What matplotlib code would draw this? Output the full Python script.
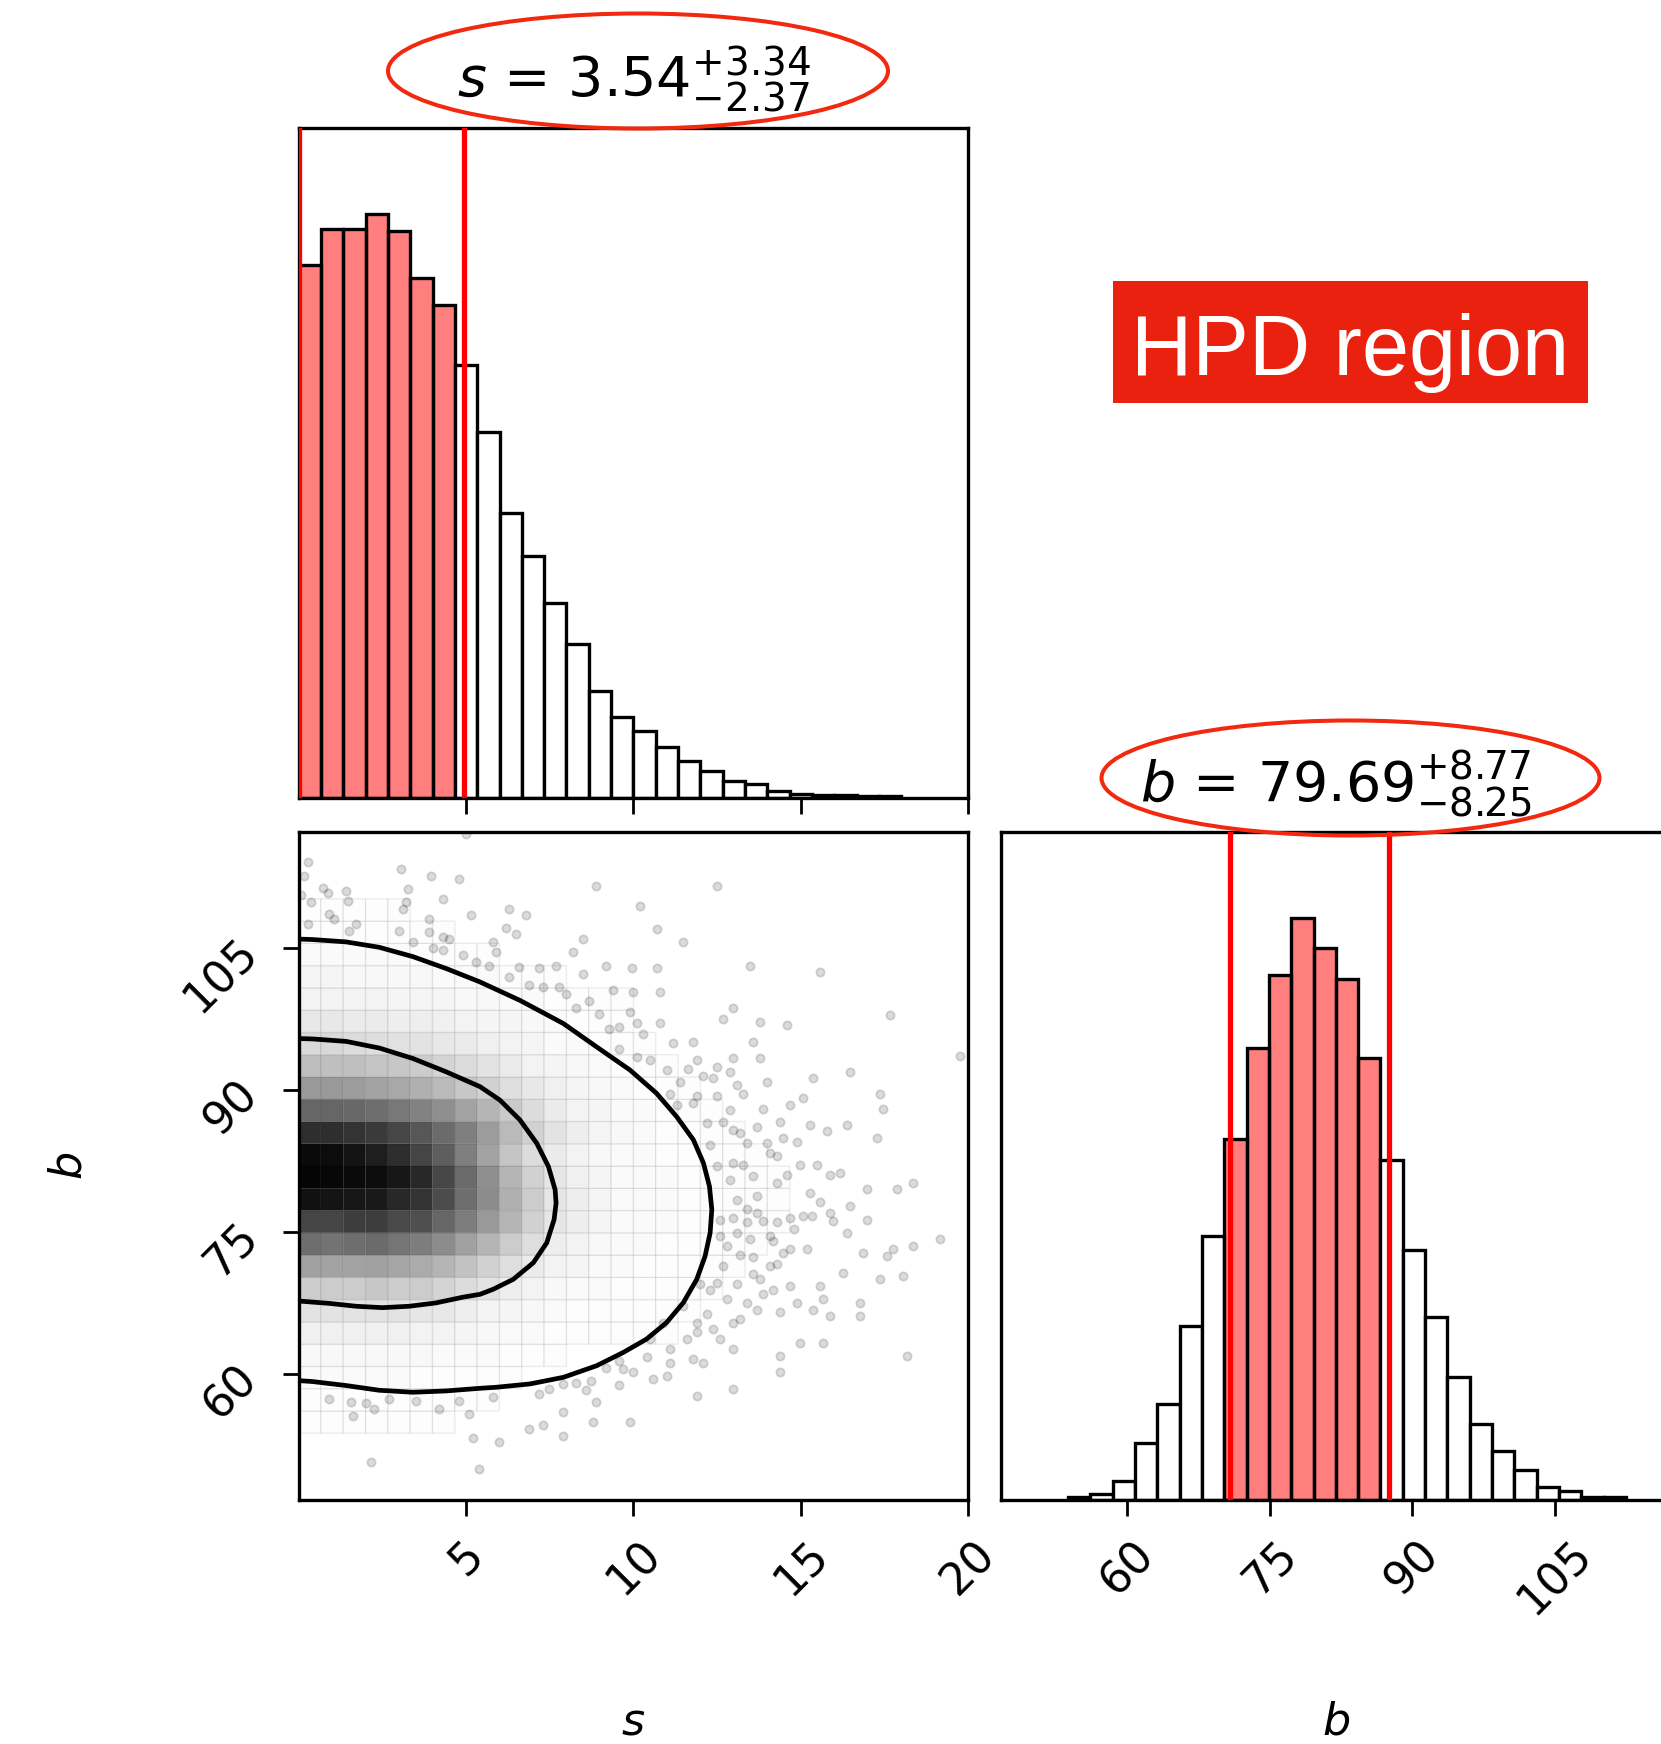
import numpy as np
import matplotlib
matplotlib.use("Agg")
import matplotlib.pyplot as plt
from matplotlib.colors import LinearSegmentedColormap
from matplotlib.patches import Ellipse, Rectangle

# --- valores ---
s_range = [0.0, 20.0]
b_range = [46.7, 117.2]
n_bins = 30

s_counts = [1160, 1238, 1238, 1270, 1233, 1132, 1072, 942, 795, 620,
            525, 423, 335, 233, 175, 145, 110, 80, 58, 37,
            30, 15, 8, 6, 5, 4, 3, 0, 0, 0]
b_counts = [0, 0, 0, 5, 12, 37, 108, 183, 332, 505,
            690, 863, 1003, 1112, 1054, 995, 843, 650, 478, 350,
            234, 145, 93, 57, 25, 17, 5, 5, 0, 0]

s_hpd = [0.0, 4.94]
b_hpd = [70.8, 87.5]

s_ticks = [5, 10, 15, 20]
b_ticks = [60, 75, 90, 105]

s_title = r"$s$ = ${3.54}_{-2.37}^{+3.34}$"
b_title = r"$b$ = ${79.69}_{-8.25}^{+8.77}$"

# densidad 2D (oscuridad en %), filas = bins de b de abajo a arriba, columnas = bins de s
density = [
    [],
    [],
    [],
    [1, 1, 1, 1, 1, 1, 1],
    [1, 1, 1, 1, 1, 1, 1, 1, 1],
    [2, 2, 2, 2, 2, 1, 1, 1, 1, 1],
    [3, 3, 3, 3, 3, 3, 2, 2, 2, 1, 1, 1],
    [6, 6, 6, 6, 6, 5, 5, 4, 3, 2, 2, 1, 1, 1, 1, 1, 1],
    [11, 11, 11, 11, 11, 10, 9, 7, 5, 4, 3, 2, 1, 1, 1, 1, 1, 1],
    [20, 20, 20, 22, 20, 20, 17, 14, 11, 7, 5, 3, 2, 2, 1, 1, 1, 1, 1],
    [37, 36, 36, 37, 35, 33, 29, 24, 18, 13, 8, 5, 4, 2, 2, 1, 1, 1, 1, 1],
    [57, 55, 57, 58, 54, 51, 45, 37, 29, 20, 13, 7, 5, 3, 2, 2, 1, 1, 1, 1, 1],
    [73, 73, 76, 76, 71, 69, 60, 51, 40, 29, 18, 10, 7, 4, 2, 2, 2, 1, 1, 1, 1, 1],
    [93, 92, 91, 90, 84, 80, 70, 57, 45, 31, 20, 10, 7, 4, 2, 2, 2, 1, 1, 1, 1, 1],
    [98, 97, 96, 95, 91, 84, 72, 58, 44, 29, 18, 10, 6, 4, 2, 2, 2, 1, 1, 1, 1, 1],
    [96, 95, 92, 88, 82, 73, 63, 50, 36, 23, 14, 8, 5, 3, 2, 2, 1, 1, 1, 1, 1],
    [82, 82, 80, 77, 72, 66, 58, 50, 39, 27, 18, 11, 7, 4, 3, 2, 1, 1, 1, 1],
    [60, 60, 59, 57, 53, 49, 44, 36, 29, 21, 14, 8, 5, 4, 2, 2, 1, 1, 1],
    [40, 40, 39, 36, 34, 31, 27, 22, 18, 13, 9, 6, 4, 3, 2, 1, 1, 1],
    [26, 25, 25, 23, 22, 20, 17, 14, 11, 8, 5, 4, 3, 2, 1, 1, 1],
    [15, 15, 14, 13, 12, 11, 9, 8, 6, 5, 4, 2, 2, 1, 1, 1],
    [9, 9, 8, 8, 7, 7, 6, 5, 4, 4, 3, 2, 1, 1, 1],
    [5, 5, 5, 5, 4, 4, 4, 3, 3, 2, 2, 1, 1, 1, 1],
    [4, 4, 3, 3, 3, 3, 2, 2, 2, 1, 1, 1],
    [2, 2, 2, 2, 2, 1, 1, 1, 1],
    [1, 1, 1, 1, 1, 1, 1],
    [1, 1, 1, 1, 1],
    [],
    [],
    [],
]

# contornos (s, b)
inner_contour = [(0.0, 95.4), (0.42, 95.36), (1.42, 95.1), (2.41, 94.4), (3.41, 93.3),
                 (4.40, 91.9), (5.42, 90.32), (6.01, 88.91), (6.61, 86.81), (7.11, 84.36),
                 (7.46, 81.90), (7.66, 79.45), (7.69, 78.05), (7.63, 76.30), (7.41, 73.84),
                 (7.01, 71.74), (6.41, 69.99), (5.81, 68.94), (5.42, 68.41), (4.90, 68.1),
                 (4.10, 67.5), (3.31, 67.15), (2.51, 67.0), (1.71, 67.15), (0.92, 67.45),
                 (0.0, 67.7)]
outer_contour = [(0.0, 105.9), (0.42, 105.85), (1.42, 105.6), (2.41, 105.03), (3.41, 104.05),
                 (4.40, 102.8), (5.40, 101.4), (6.61, 99.43), (7.91, 96.98), (8.90, 94.52),
                 (9.90, 92.07), (10.69, 89.62), (11.29, 87.16), (11.79, 84.71), (12.09, 82.26),
                 (12.27, 79.80), (12.34, 77.35), (12.29, 74.89), (12.14, 72.44), (11.89, 69.99),
                 (11.49, 67.53), (10.99, 65.43), (10.39, 63.68), (9.70, 62.28), (8.90, 60.87),
                 (7.91, 59.65), (6.91, 58.95), (5.91, 58.60), (5.42, 58.49), (4.40, 58.21),
                 (3.41, 58.07), (2.41, 58.28), (1.42, 58.78), (0.42, 59.2), (0.0, 59.3)]

# muestras fuera del contorno exterior (s, b)
samples = [
    (12.49, 111.5), (10.20, 109.4), (10.69, 107.0), (11.49, 105.6), (10.69, 102.8), (9.95, 102.8),
    (13.48, 103.1), (15.57, 102.4), (10.00, 100.3), (10.79, 100.3), (12.98, 98.6), (12.68, 97.5),
    (13.78, 97.2), (14.58, 96.8), (17.66, 97.9), (19.75, 93.6), (9.90, 98.2), (10.10, 97.0),
    (10.79, 97.0), (10.30, 95.9), (11.19, 94.9), (11.79, 95.0), (13.58, 95.0), (10.10, 93.5),
    (10.49, 93.1), (11.89, 93.1), (12.98, 93.3), (13.78, 93.3), (10.99, 92.1), (11.64, 92.2),
    (12.49, 92.4), (12.88, 91.9), (12.09, 91.4), (12.39, 91.2), (11.39, 90.8), (13.98, 90.8),
    (15.37, 91.2), (16.47, 91.9), (13.08, 90.5), (13.28, 89.6), (11.09, 89.6), (11.89, 89.3),
    (12.49, 89.3), (11.29, 88.4), (11.79, 88.6), (14.68, 88.4), (15.07, 89.1), (13.88, 88.0),
    (17.36, 89.6), (17.46, 88.0), (12.88, 87.9), (12.19, 86.5), (12.68, 86.6), (14.38, 86.6),
    (15.27, 86.3), (16.37, 86.3), (15.77, 85.6), (13.68, 86.1), (12.98, 85.8), (13.18, 85.4),
    (14.48, 84.9), (14.87, 84.5), (17.26, 84.9), (12.29, 84.2), (13.38, 84.4), (13.98, 84.4),
    (14.08, 83.3), (14.28, 83.0),
    (12.49, 81.9), (12.98, 82.3), (13.28, 82.1), (13.58, 80.9), (14.97, 82.1), (15.47, 82.1),
    (15.87, 81.0), (16.17, 81.2), (14.58, 81.0), (14.28, 80.2), (12.88, 80.5), (13.08, 78.4),
    (13.68, 78.8), (13.38, 77.4), (13.68, 77.0), (15.27, 79.1), (15.57, 78.2), (16.47, 77.7),
    (16.97, 79.5), (17.86, 79.5), (18.36, 80.2), (12.58, 76.3), (12.98, 76.5), (13.38, 76.0),
    (13.88, 76.1), (14.28, 76.0), (14.68, 76.5), (15.07, 76.7), (15.32, 76.7), (15.87, 77.0),
    (15.97, 76.1), (16.97, 76.3), (14.78, 75.3), (16.37, 74.9), (19.16, 74.2), (12.58, 74.6),
    (12.78, 73.5), (13.08, 74.9), (13.48, 74.2), (14.08, 74.6), (14.18, 74.0), (14.48, 72.8),
    (14.68, 73.2), (15.17, 73.2), (16.87, 72.8), (17.56, 72.5), (17.76, 73.2), (18.36, 73.5),
    (13.18, 72.6), (13.58, 72.3), (12.68, 71.4), (14.08, 71.4), (14.28, 71.6), (13.58, 70.5),
    (13.78, 70.0), (16.27, 70.7), (17.36, 70.0), (18.06, 70.3), (13.08, 69.5), (11.99, 69.5),
    (12.29, 68.9), (12.49, 69.6), (14.18, 68.9), (13.88, 68.4), (14.68, 69.3), (15.57, 69.3),
    (12.78, 67.9), (13.38, 67.5), (13.68, 66.7), (14.87, 67.5), (15.37, 66.8), (15.67, 67.9),
    (16.77, 67.5), (15.87, 66.1), (16.77, 66.1), (11.49, 67.2), (14.38, 66.5), (13.18, 65.8),
    (12.98, 65.4), (12.19, 66.3), (11.89, 65.4), (11.89, 64.4), (10.89, 65.4), (10.49, 63.7),
    (11.09, 62.6), (12.39, 64.7), (12.58, 63.7), (11.59, 63.7), (12.98, 62.6), (14.97, 63.3),
    (15.67, 63.3), (18.16, 61.9), (14.38, 61.9), (11.79, 61.6), (12.09, 61.2), (11.09, 61.2),
    (10.39, 61.8), (9.99, 60.2), (10.99, 59.8), (10.59, 59.5), (14.38, 60.2), (12.98, 58.4),
    (11.89, 57.7), (9.90, 54.9),
    (0.27, 114.0), (0.17, 112.6), (3.06, 113.3), (3.95, 112.6), (4.80, 112.2), (8.88, 111.5),
    (0.72, 111.3), (0.87, 110.8), (1.42, 111.0), (3.26, 111.2), (0.07, 110.5), (0.37, 109.8),
    (1.47, 109.9), (4.30, 110.1), (3.21, 109.8), (3.11, 109.1), (6.29, 109.1), (5.15, 108.4),
    (6.79, 108.4), (0.92, 108.5), (1.07, 108.0), (0.27, 107.5), (1.71, 107.5), (3.90, 108.0),
    (1.52, 106.8), (3.01, 106.8), (3.90, 106.6), (4.30, 106.1), (4.50, 105.9), (6.19, 107.1),
    (6.49, 106.4), (8.48, 105.9), (3.41, 105.6), (4.00, 105.0), (4.30, 104.7), (4.90, 104.2),
    (5.80, 105.6), (5.90, 104.5), (8.19, 104.5), (5.30, 103.5), (5.70, 103.1), (6.59, 102.9),
    (7.19, 102.8), (7.69, 103.1), (9.18, 103.1), (8.48, 102.2), (6.29, 101.9), (6.89, 101.0),
    (7.29, 100.8), (7.79, 100.8), (7.99, 100.1), (9.38, 100.5), (8.68, 99.4), (8.29, 98.6),
    (8.98, 98.0), (9.28, 96.4), (9.58, 96.6), (9.58, 94.3), (5.0, 117.0),
    (0.92, 57.4), (1.57, 57.0), (1.61, 55.6), (2.01, 56.9), (2.26, 56.3), (2.71, 57.4),
    (3.51, 57.2), (4.20, 56.3), (4.80, 57.2), (5.10, 55.8), (5.80, 57.6), (5.20, 53.2),
    (5.99, 52.8), (5.40, 50.0), (2.16, 50.7), (6.89, 54.2), (7.29, 54.6), (7.89, 56.0),
    (7.89, 53.5), (8.78, 54.9), (8.88, 57.0), (8.58, 58.3), (9.58, 58.8), (7.19, 57.9),
    (7.49, 58.4), (7.89, 58.9), (8.29, 59.1), (8.73, 59.3), (9.18, 60.6), (9.68, 60.5),
    (9.58, 61.4),
]

# --- geometría en píxeles de la imagen final ---
W, H = 1661, 1744
fig = plt.figure(figsize=(W / 100, H / 100), dpi=100)


def axes_px(x0, y0, x1, y1):
    return fig.add_axes([x0 / W, 1 - y1 / H, (x1 - x0) / W, (y1 - y0) / H])


ax_s = axes_px(298.6, 128.3, 968.3, 797.7)
ax_sb = axes_px(298.6, 832.0, 968.3, 1500.0)
ax_b = axes_px(1001.0, 832.0, 1670.7, 1500.0)

s_edges = np.linspace(s_range[0], s_range[1], n_bins + 1)
b_edges = np.linspace(b_range[0], b_range[1], n_bins + 1)

TICK = dict(length=11.5, width=2.0, labelsize=32, pad=12)
SPINE_LW = 2.4


def style(ax):
    for sp in ax.spines.values():
        sp.set_linewidth(SPINE_LW)
    ax.tick_params(**TICK)


def draw_hist(ax, edges, counts, hpd, title):
    counts = np.asarray(counts, float)
    centers = 0.5 * (edges[:-1] + edges[1:])
    keep = counts > 0
    inside = (centers >= hpd[0]) & (centers <= hpd[1])
    faces = [(1, 0, 0, 0.5) if f else "white" for f in inside[keep]]
    ax.bar(edges[:-1][keep], counts[keep], width=np.diff(edges)[keep], align="edge",
           color=faces, edgecolor="black", linewidth=2.4, zorder=2)
    for v in hpd:
        ax.axvline(v, color="red", lw=3.8, zorder=3)
    ax.set_xlim(edges[0], edges[-1])
    ax.set_ylim(0, 1.147 * counts.max())
    ax.set_yticks([])
    ax.set_title(title, fontsize=40, pad=22.7)
    style(ax)


# histograma de s
draw_hist(ax_s, s_edges, s_counts, s_hpd, s_title)
ax_s.set_xticks(s_ticks)
ax_s.tick_params(labelbottom=False)

# histograma de b
draw_hist(ax_b, b_edges, b_counts, b_hpd, b_title)
ax_b.set_xticks(b_ticks)
for lab in ax_b.get_xticklabels():
    lab.set_rotation(45)
ax_b.set_xlabel(r"$b$", fontsize=32)
ax_b.xaxis.set_label_coords(0.5, -0.3)

# panel 2D
grid = np.zeros((n_bins, n_bins))
for j, row in enumerate(density):
    grid[j, :len(row)] = row
dens_cmap = LinearSegmentedColormap.from_list("dens", ["white", "black"])
ax_sb.pcolor(s_edges, b_edges, np.ma.masked_equal(grid, 0), cmap=dens_cmap,
             vmin=0, vmax=100, edgecolors=(0, 0, 0, 0.07), linewidth=1.0, zorder=1)

pts = np.array(samples)
ax_sb.plot(pts[:, 0], pts[:, 1], "o", ms=6, color="black", alpha=0.14, mew=1.3, zorder=2)

for cont in (inner_contour, outer_contour):
    c = np.array(cont)
    ax_sb.plot(c[:, 0], c[:, 1], color="black", lw=3.4, solid_joinstyle="round",
               solid_capstyle="butt", zorder=3)

ax_sb.set_xlim(s_range)
ax_sb.set_ylim(b_range)
ax_sb.set_xticks(s_ticks)
ax_sb.set_yticks(b_ticks)
for lab in ax_sb.get_xticklabels() + ax_sb.get_yticklabels():
    lab.set_rotation(45)
ax_sb.set_xlabel(r"$s$", fontsize=32)
ax_sb.set_ylabel(r"$b$", fontsize=32)
ax_sb.xaxis.set_label_coords(0.5, -0.3)
ax_sb.yaxis.set_label_coords(-0.31, 0.5)
style(ax_sb)

# --- anotaciones rojas ---
RED = "#f2290f"
for cx, cy, w, h in [(638, 71, 500, 115), (1350.5, 778, 498, 115)]:
    fig.add_artist(Ellipse((cx / W, 1 - cy / H), w / W, h / H, transform=fig.transFigure,
                           fill=False, ec=RED, lw=2.9, zorder=10))

fig.add_artist(Rectangle((1113 / W, 1 - 403 / H), 475 / W, 122 / H, transform=fig.transFigure,
                         fc="#eb2110", ec="none", zorder=10))
fig.text(1350.5 / W, 1 - 375 / H, "HPD region", ha="center", va="baseline", color="white",
         fontsize=61, family="Liberation Sans", zorder=11)

fig.savefig("out.png", dpi=100)
